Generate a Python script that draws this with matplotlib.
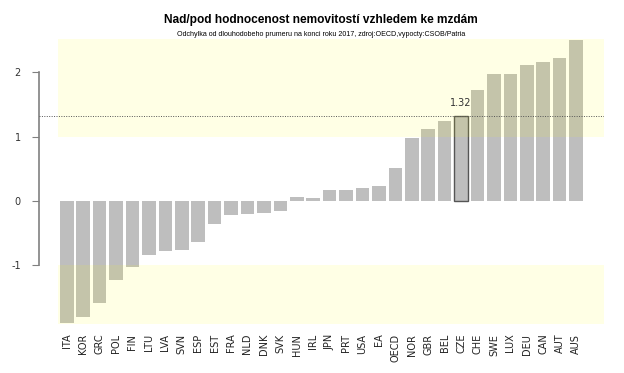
import matplotlib.pyplot as plt
import numpy as np

# data
countries = ["ITA", "KOR", "GRC", "POL", "FIN", "LTU", "LVA", "SVN", "ESP", "EST",
             "FRA", "NLD", "DNK", "SVK", "HUN", "IRL", "JPN", "PRT", "USA", "EA",
             "OECD", "NOR", "GBR", "BEL", "CZE", "CHE", "SWE", "LUX", "DEU", "CAN",
             "AUT", "AUS"]
values = [-1.90, -1.80, -1.59, -1.22, -1.03, -0.83, -0.78, -0.76, -0.64, -0.36,
          -0.22, -0.195, -0.18, -0.155, 0.06, 0.05, 0.17, 0.17, 0.20, 0.23,
          0.51, 0.98, 1.12, 1.25, 1.32, 1.72, 1.975, 1.98, 2.12, 2.17,
          2.22, 2.50]
highlight = "CZE"
yticks = [-1, 0, 1, 2]

fig = plt.figure(figsize=(6.24, 3.73), dpi=100)
ax = fig.add_axes([39 / 624, 1 - 324 / 373, (604 - 39) / 624, (324 - 39) / 373])

x = np.arange(len(countries))
vmin, vmax = min(values), max(values)
hi = countries.index(highlight)
n = len(countries)

bars = ax.bar(x, values, width=0.82, color="#bebebe", zorder=1)
bars[hi].set_edgecolor("#555555")
bars[hi].set_linewidth(1.0)

# zones of over/under valuation
x0, x1 = -0.53, n - 1 + 1.7
ax.fill_between([x0, x1], 1, vmax + 0.02, color="yellow", alpha=0.1, lw=0, zorder=2)
ax.fill_between([x0, x1], -1, vmin - 0.01, color="yellow", alpha=0.1, lw=0, zorder=2)

ref = values[hi]
ax.axhline(ref, color="#555555", ls=(0, (1, 1.5)), lw=0.7, zorder=3)
ax.text(hi, ref + 0.12, f"{ref:.2f}", ha="center", va="bottom", fontsize=7, color="#333333")

ax.set_xlim(-1.69, n - 1 + 1.7)
ax.set_ylim(vmin - 0.01, vmax + 0.02)

for s in ["top", "right", "bottom"]:
    ax.spines[s].set_visible(False)
ax.spines["left"].set_bounds(-1, 2)
ax.spines["left"].set_color("#808080")
ax.spines["left"].set_linewidth(1.2)

ax.set_yticks(yticks)
ax.set_yticklabels([str(t) for t in yticks])
ax.tick_params(axis="y", length=5, color="#808080", labelsize=7, labelcolor="#333333", pad=8)

ax.set_xticks(x)
ax.set_xticklabels(countries, rotation=90, fontsize=7, color="#222222", va="top")
ax.tick_params(axis="x", length=0, pad=7)

fig.text(0.514, 1 - 20 / 373, "Nad/pod hodnocenost nemovitostí vzhledem ke mzdám",
         ha="center", va="center", fontsize=8.6, fontweight="bold", family="Liberation Sans")
fig.text(0.514, 1 - 35 / 373, "Odchylka od dlouhodobeho prumeru na konci roku 2017, zdroj:OECD,vypocty:CSOB/Patria",
         ha="center", va="center", fontsize=5.1, family="Liberation Sans")

fig.savefig("out.png", dpi=100)
